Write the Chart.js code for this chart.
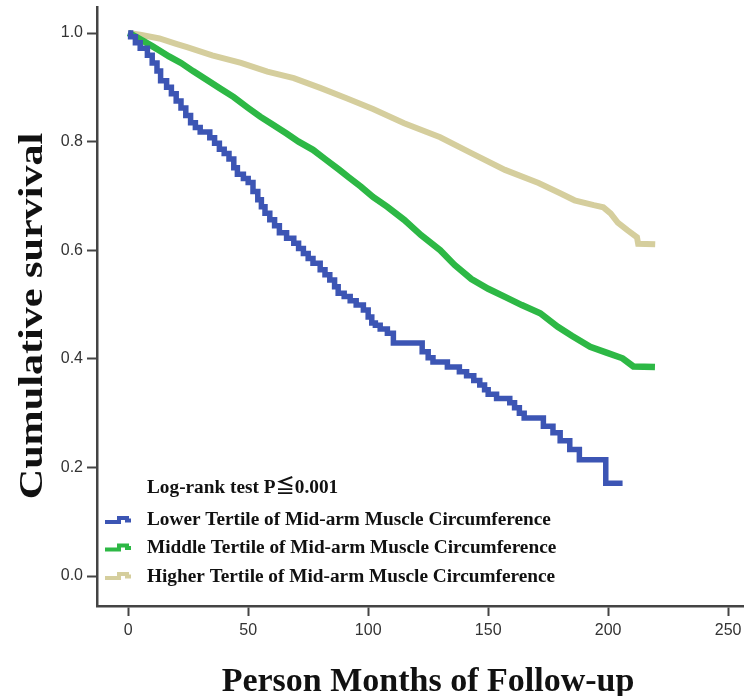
<!DOCTYPE html>
<html>
<head>
<meta charset="utf-8">
<script src="https://cdn.jsdelivr.net/npm/chart.js@4"></script>
<style>
  html, body { margin: 0; padding: 0; background: #ffffff; }
  #wrap { width: 744px; height: 696px; position: relative; }
</style>
</head>
<body>
<div id="wrap"><canvas id="c" width="744" height="696"></canvas></div>
<script>
// ---- data (months, cumulative survival) ----
const lowerT  = [0, 1, 3, 5, 8, 10, 12, 13.5, 16, 18, 20, 22, 24, 26, 28, 30, 34, 36, 38, 40, 42, 44, 45.5, 48, 50, 52, 54, 55.5, 57, 59, 61, 63, 66, 69, 71, 73, 75, 77, 80, 82, 84, 86, 87.5, 90, 92.5, 95, 98, 100, 101.5, 103, 105, 108, 110.5, 122.5, 125, 127, 133, 138, 141, 144, 146.5, 148.5, 150, 153.5, 159, 161, 163, 165, 173, 177, 180, 184, 188, 199, 206];
const lowerS  = [1.0, 0.993, 0.982, 0.972, 0.959, 0.945, 0.930, 0.912, 0.900, 0.888, 0.875, 0.862, 0.848, 0.835, 0.826, 0.818, 0.807, 0.797, 0.786, 0.778, 0.768, 0.752, 0.740, 0.732, 0.725, 0.708, 0.693, 0.680, 0.668, 0.656, 0.645, 0.632, 0.622, 0.613, 0.603, 0.594, 0.585, 0.576, 0.564, 0.555, 0.545, 0.533, 0.521, 0.515, 0.507, 0.499, 0.490, 0.477, 0.466, 0.462, 0.455, 0.447, 0.429, 0.413, 0.402, 0.394, 0.385, 0.376, 0.369, 0.360, 0.352, 0.343, 0.335, 0.327, 0.319, 0.310, 0.300, 0.291, 0.276, 0.264, 0.249, 0.233, 0.214, 0.171, 0.171];

const middleT = [0, 2, 6, 10, 13, 17, 22, 27, 33, 38, 44, 50, 55, 60, 66, 71, 77, 82, 88, 92, 97, 102, 108, 115, 122, 130, 136, 143, 150, 157, 164, 171.7, 179, 185, 192.5, 199.6, 206, 210.5, 219.5];
const middleS = [1.0, 0.996, 0.986, 0.976, 0.968, 0.957, 0.945, 0.930, 0.913, 0.899, 0.882, 0.862, 0.846, 0.832, 0.815, 0.800, 0.785, 0.768, 0.748, 0.734, 0.717, 0.698, 0.680, 0.656, 0.628, 0.600, 0.573, 0.547, 0.529, 0.514, 0.499, 0.484, 0.459, 0.442, 0.422, 0.411, 0.401, 0.386, 0.385];

const higherT = [0, 5, 13, 20, 24.5, 35, 47, 58, 69, 80, 91, 102, 115, 130, 143, 157, 171, 180, 186, 194, 198, 201, 204, 208, 212, 212.5, 219.6];
const higherS = [1.0, 0.997, 0.990, 0.980, 0.974, 0.959, 0.945, 0.929, 0.917, 0.899, 0.880, 0.860, 0.834, 0.808, 0.779, 0.748, 0.724, 0.705, 0.692, 0.683, 0.679, 0.668, 0.651, 0.637, 0.624, 0.612, 0.611];

const seriesLabels = [
  'Lower Tertile of Mid-arm Muscle Circumference',
  'Middle Tertile of Mid-arm Muscle Circumference',
  'Higher Tertile of Mid-arm Muscle Circumference'
];
const legendTitle = 'Log-rank test P\u22660.001';
const xTicks = [0, 50, 100, 150, 200, 250];
const yTicks = [0.0, 0.2, 0.4, 0.6, 0.8, 1.0];
const xTitle = 'Person Months of Follow-up';
const yTitle = 'Cumulative survival';

function pts(t, s) { return t.map((v, i) => ({ x: v, y: s[i] })); }

const COLORS = ['#3c55b4', '#2db845', '#d5ce9d'];
const TITLE_FONT = 'bold 34px "Liberation Serif", "Times New Roman", serif';

const annotationPlugin = {
  id: 'innerLegendAndTitles',
  afterDraw(chart) {
    const ctx = chart.ctx;
    ctx.save();
    // axis titles
    ctx.fillStyle = '#111';
    ctx.font = TITLE_FONT;
    ctx.textAlign = 'center';
    ctx.textBaseline = 'alphabetic';
    ctx.fillText(xTitle, 428, 691);
    ctx.save();
    ctx.translate(42, 316);
    ctx.rotate(-Math.PI / 2);
    ctx.scale(1.24, 1);
    ctx.fillText(yTitle, 0, 0);
    ctx.restore();

    // legend
    ctx.font = 'bold 19.3px "Liberation Serif", "Noto Sans CJK SC", serif';
    ctx.textAlign = 'left';
    ctx.textBaseline = 'alphabetic';
    ctx.fillText(legendTitle, 147, 493);
    const baselines = [525, 553, 582];
    const centers = [520, 547.5, 576];
    chart.data.datasets.forEach((ds, i) => {
      const c = centers[i];
      ctx.strokeStyle = ds.borderColor;
      ctx.lineWidth = 4;
      ctx.lineJoin = 'miter';
      ctx.lineCap = 'butt';
      ctx.beginPath();
      ctx.moveTo(105, c + 2);
      ctx.lineTo(119, c + 2);
      ctx.lineTo(119, c - 2);
      ctx.lineTo(127, c - 2);
      ctx.lineTo(127, c + 0.5);
      ctx.lineTo(131, c + 0.5);
      ctx.stroke();
      ctx.fillStyle = '#111';
      ctx.fillText(ds.label, 147, baselines[i]);
    });
    ctx.restore();
  }
};

new Chart(document.getElementById('c'), {
  type: 'line',
  data: {
    datasets: [
      { label: seriesLabels[0], data: pts(lowerT, lowerS), borderColor: COLORS[0], borderWidth: 5.5, stepped: true },
      { label: seriesLabels[1], data: pts(middleT, middleS), borderColor: COLORS[1], borderWidth: 6.5, tension: 0 },
      { label: seriesLabels[2], data: pts(higherT, higherS), borderColor: COLORS[2], borderWidth: 6, tension: 0 }
    ]
  },
  options: {
    responsive: false,
    devicePixelRatio: 1,
    animation: false,
    layout: { padding: { top: 7, right: 0, left: 0, bottom: 0 } },
    elements: {
      point: { radius: 0, hoverRadius: 0 },
      line: { fill: false, borderJoinStyle: 'miter', borderCapStyle: 'butt' }
    },
    plugins: {
      legend: { display: false },
      tooltip: { enabled: false }
    },
    scales: {
      x: {
        type: 'linear',
        min: -13,
        max: 256.6,
        afterBuildTicks: (s) => { s.ticks = xTicks.map(v => ({ value: v })); },
        afterFit: (s) => { s.height = 90; s.paddingLeft = 0; s.paddingRight = 0; },
        ticks: {
          font: { family: '"Liberation Sans", Arial, sans-serif', size: 16 },
          color: '#333',
          padding: 5,
          maxRotation: 0,
          callback: (v) => String(v)
        },
        grid: { drawOnChartArea: false, drawTicks: true, tickLength: 10, tickWidth: 2, tickColor: '#444' },
        border: { display: true, color: '#444', width: 2.5 },
        title: { display: false, text: xTitle }
      },
      y: {
        type: 'linear',
        min: -0.0552,
        max: 1.048,
        afterBuildTicks: (s) => { s.ticks = yTicks.map(v => ({ value: v })); },
        afterFit: (s) => { s.width = 97; s.paddingTop = 0; s.paddingBottom = 0; },
        ticks: {
          font: { family: '"Liberation Sans", Arial, sans-serif', size: 16 },
          color: '#333',
          padding: 4,
          callback: (v) => Number(v).toFixed(1)
        },
        grid: { drawOnChartArea: false, drawTicks: true, tickLength: 10, tickWidth: 2, tickColor: '#444' },
        border: { display: true, color: '#444', width: 2.5 },
        title: { display: false, text: yTitle }
      }
    }
  },
  plugins: [annotationPlugin]
});
</script>
</body>
</html>
